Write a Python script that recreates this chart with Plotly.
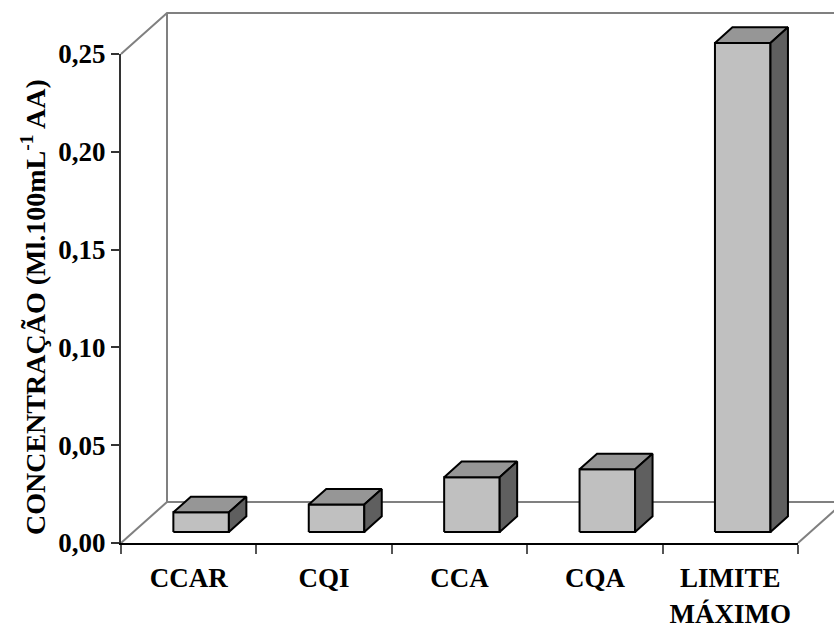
import plotly.graph_objects as go

# ---- data ----
categories = ["CCAR", "CQI", "CCA", "CQA", "LIMITE<br>MÁXIMO"]
concentracao = [0.010, 0.014, 0.028, 0.032, 0.25]
y_ticks = [0.00, 0.05, 0.10, 0.15, 0.20, 0.25]
y_tick_labels = ["0,00", "0,05", "0,10", "0,15", "0,20", "0,25"]
y_title = "CONCENTRAÇÃO (Ml.100mL<sup>-1</sup> AA)"

# ---- page geometry (pixels) ----
W, H = 834, 630
AX_LEFT, AX_RIGHT = 121, 798      # front value axis / end of category axis
AX_ZERO, AX_TOP = 543, 54         # value 0 and value 0.25 on the front axis
Y_MAX = 0.25

n = len(categories)
cat_px = (AX_RIGHT - AX_LEFT) / n
val_px = (AX_ZERO - AX_TOP) / Y_MAX

# oblique depth of the chart box, in data units
DEPTH_X = 46 / cat_px
DEPTH_Y = 41 / val_px
# bar placement inside the depth and bar width (fractions)
BAR_D0 = 0.27
BAR_D = 0.38
BAR_W = 0.41

x0, x1 = -0.5, n - 0.5
x_range = [x0 - AX_LEFT / cat_px, x0 + (W - AX_LEFT) / cat_px]
y_range = [-(H - AX_ZERO) / val_px, AX_ZERO / val_px]

FONT = "Liberation Serif"
GREY = "#808080"

fig = go.Figure()

# ---- box: side wall, back wall and floor edges ----
bx, by = DEPTH_X, DEPTH_Y
wall_x = [x0, x0 + bx, x1 + bx + 1, None,
          x0 + bx, x0 + bx, x1 + bx + 1, None,
          x0, x0 + bx, None,
          x1, x1 + bx]
wall_y = [Y_MAX, Y_MAX + by, Y_MAX + by, None,
          Y_MAX + by, by, by, None,
          0, by, None,
          0, by]
fig.add_trace(go.Scatter(x=wall_x, y=wall_y, mode="lines",
                         line=dict(color=GREY, width=2),
                         hoverinfo="skip", showlegend=False))

# ---- 3-D columns: front, top and side faces ----
front_x, front_y, top_x, top_y, side_x, side_y = [], [], [], [], [], []
for i, v in enumerate(concentracao):
    cx = i + BAR_D0 * DEPTH_X
    base = BAR_D0 * DEPTH_Y
    xl, xr = cx - BAR_W / 2, cx + BAR_W / 2
    top = base + v
    ddx, ddy = BAR_D * DEPTH_X, BAR_D * DEPTH_Y
    front_x += [xl, xr, xr, xl, xl, None]
    front_y += [base, base, top, top, base, None]
    top_x += [xl, xl + ddx, xr + ddx, xr, xl, None]
    top_y += [top, top + ddy, top + ddy, top, top, None]
    side_x += [xr, xr + ddx, xr + ddx, xr, xr, None]
    side_y += [base, base + ddy, top + ddy, top, base, None]

for fx, fy, col in [(front_x, front_y, "#C0C0C0"),
                    (top_x, top_y, "#969696"),
                    (side_x, side_y, "#5F5F5F")]:
    fig.add_trace(go.Scatter(x=fx, y=fy, mode="lines", fill="toself",
                             fillcolor=col,
                             line=dict(color="black", width=2),
                             hoverinfo="skip", showlegend=False))

# empty trace that carries the visible front axes
fig.add_trace(go.Scatter(x=[], y=[], xaxis="x2", yaxis="y2",
                         showlegend=False, hoverinfo="skip"))

hidden = dict(visible=False, fixedrange=True, automargin=False)
fig.update_layout(
    width=W, height=H,
    margin=dict(l=0, r=0, t=0, b=0, pad=0, autoexpand=False),
    paper_bgcolor="white",
    plot_bgcolor="rgba(0,0,0,0)",
    xaxis=dict(range=x_range, domain=[0, 1], **hidden),
    yaxis=dict(range=y_range, domain=[0, 1], **hidden),
    xaxis2=dict(
        domain=[AX_LEFT / W, AX_RIGHT / W], range=[x0, x1], anchor="y2",
        automargin=False,
        showline=True, linecolor="black", linewidth=2,
        showgrid=False, zeroline=False,
        tickmode="array", tickvals=list(range(n)), ticktext=categories,
        ticks="", ticklabelstandoff=10,
        minor=dict(tickmode="array",
                   tickvals=[x0 + k for k in range(n + 1)],
                   ticks="outside", ticklen=9, tickwidth=1.5,
                   tickcolor="#555555", showgrid=False),
        tickfont=dict(family=FONT, size=27, color="black", weight="bold"),
        fixedrange=True,
    ),
    yaxis2=dict(
        domain=[(H - AX_ZERO) / H, (H - AX_TOP) / H], range=[0, Y_MAX],
        anchor="x2", automargin=False,
        showline=True, linecolor="#333333", linewidth=2,
        showgrid=False, zeroline=False,
        tickmode="array", tickvals=y_ticks, ticktext=y_tick_labels,
        ticks="outside", ticklen=8, tickwidth=1.5, tickcolor="#333333",
        tickfont=dict(family=FONT, size=27, color="black", weight="bold"),
        fixedrange=True,
    ),
    annotations=[dict(
        text=y_title, textangle=-90, showarrow=False,
        xref="paper", yref="paper", x=33 / W, y=(H - 307) / H,
        xanchor="center", yanchor="middle",
        font=dict(family=FONT, size=28, color="black", weight="bold"),
    )],
)

fig.write_html("out.html")
